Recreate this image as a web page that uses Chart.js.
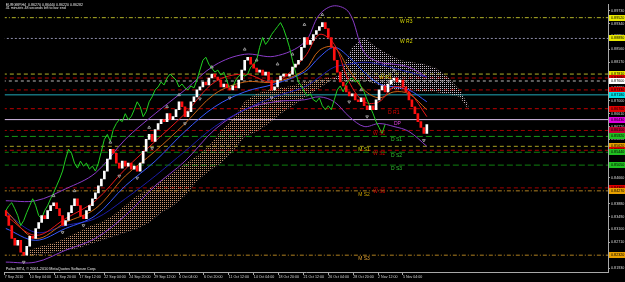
<!DOCTYPE html>
<html>
<head>
<meta charset="utf-8">
<title>EURGBP,H4</title>
<script src="https://cdn.jsdelivr.net/npm/chart.js@4.4.1/dist/chart.umd.min.js"></script>
<style>
    html, body { margin: 0; padding: 0; background: #000000; overflow: hidden; }
    #graphCanvas { display: block; }
</style>
</head>
<body>
<canvas id="graphCanvas" width="625" height="282"></canvas>
<script>
// closing prices, one bar each
var closes = [
    0.8352, 0.8322, 0.8283, 0.8262, 0.8277, 0.8241, 0.8232, 0.8259, 0.8289, 0.8283,
    0.8313, 0.8331, 0.8352, 0.8343, 0.8367, 0.8382, 0.8391, 0.8373, 0.8352, 0.8322,
    0.8337, 0.8361, 0.8382, 0.8403, 0.8382, 0.8352, 0.8343, 0.8367, 0.8382, 0.8403,
    0.8421, 0.8442, 0.8463, 0.8487, 0.8523, 0.8553, 0.8541, 0.8511, 0.8496, 0.8517,
    0.8502, 0.8511, 0.8493, 0.8502, 0.8487, 0.8511, 0.8547, 0.8583, 0.8598, 0.8577,
    0.8613, 0.8631, 0.8643, 0.8637, 0.8661, 0.8643, 0.8652, 0.8673, 0.8697, 0.8682,
    0.8652, 0.8667, 0.8697, 0.8712, 0.8733, 0.8742, 0.8757, 0.8748, 0.8769, 0.8781,
    0.8772, 0.8763, 0.8742, 0.8751, 0.8739, 0.8733, 0.8745, 0.8739, 0.8763, 0.8793,
    0.8823, 0.8832, 0.8811, 0.8799, 0.8787, 0.8793, 0.8778, 0.8787, 0.8763, 0.8733,
    0.8742, 0.8763, 0.8775, 0.8781, 0.8775, 0.8781, 0.8802, 0.8811, 0.8823, 0.8862,
    0.8892, 0.8871, 0.8883, 0.8901, 0.8913, 0.8925, 0.8937, 0.8919, 0.8892, 0.8862,
    0.8823, 0.8787, 0.8757, 0.8745, 0.8727, 0.8715, 0.8721, 0.8703, 0.8697, 0.8709,
    0.8685, 0.8673, 0.8685, 0.8673, 0.8703, 0.8733, 0.8745, 0.8727, 0.8751, 0.8763,
    0.8769, 0.8757, 0.8763, 0.8742, 0.8727, 0.8703, 0.8682, 0.8661, 0.8637, 0.8619,
    0.8601, 0.8628
];
var firstOpen = 0.8367;
var chikouShift = 14;

// ichimoku cloud edges
var cloudIdx = [8, 12, 16, 20, 24, 28, 32, 36, 40, 44, 48, 52, 56, 60, 64, 68, 72, 76, 80,
    84, 88, 92, 96, 100, 104, 108, 112, 116, 120, 124, 128, 132, 136, 140, 144, 148, 152, 155];
var spanA = [0.8247, 0.8259, 0.8268, 0.8283, 0.8301, 0.8319, 0.8331, 0.8352, 0.8382, 0.8412,
    0.8433, 0.8457, 0.8481, 0.8508, 0.8532, 0.8562, 0.8607, 0.8643, 0.8697, 0.8721,
    0.8733, 0.8739, 0.8745, 0.8757, 0.8763, 0.8769, 0.8763, 0.8757, 0.8763, 0.8751,
    0.8739, 0.8733, 0.8733, 0.8727, 0.8727, 0.8721, 0.8712, 0.8673];
var spanB = [0.8232, 0.8235, 0.8241, 0.8247, 0.8253, 0.8265, 0.8277, 0.8289, 0.8301, 0.8313,
    0.8331, 0.8361, 0.8382, 0.8412, 0.8457, 0.8487, 0.8511, 0.8547, 0.8592, 0.8607,
    0.8631, 0.8661, 0.8685, 0.8709, 0.8733, 0.8757, 0.8781, 0.8862, 0.8892, 0.8862,
    0.8841, 0.8823, 0.8817, 0.8811, 0.8799, 0.8772, 0.8733, 0.8685];

// indicator lines
var lineIdx = [0, 10, 20, 30, 40, 50, 60, 70, 80, 90, 100, 105, 110, 115, 120, 125, 130, 135, 141];
var bandUpper = [0.8397, 0.8397, 0.8433, 0.8481, 0.8583, 0.8661, 0.8733, 0.8808, 0.8841, 0.8835,
    0.8877, 0.8961, 0.8988, 0.8967, 0.8847, 0.8817, 0.8811, 0.8802, 0.8772];
var bandLower = [0.8211, 0.8211, 0.8247, 0.8283, 0.8352, 0.8442, 0.8517, 0.8613, 0.8673, 0.8697,
    0.8703, 0.8712, 0.8697, 0.8652, 0.8622, 0.8631, 0.8622, 0.8607, 0.8562];
var maBlue = [0.8313, 0.8277, 0.8313, 0.8352, 0.8442, 0.8517, 0.8607, 0.8682, 0.8727, 0.8751,
    0.8787, 0.8832, 0.8862, 0.8832, 0.8787, 0.8751, 0.8742, 0.8733, 0.8697];
var maNavy = [0.8361, 0.8301, 0.8322, 0.8343, 0.8403, 0.8472, 0.8547, 0.8622, 0.8673, 0.8712,
    0.8742, 0.8772, 0.8802, 0.8811, 0.8817, 0.8811, 0.8799, 0.8787, 0.8772];
var maRed = [0.8352, 0.8292, 0.8343, 0.8397, 0.8493, 0.8577, 0.8661, 0.8757, 0.8781, 0.8757,
    0.8832, 0.8901, 0.8871, 0.8757, 0.8697, 0.8697, 0.8742, 0.8727, 0.8652];
var maOrange = [0.8367, 0.8283, 0.8331, 0.8373, 0.8472, 0.8547, 0.8631, 0.8721, 0.8757, 0.8757,
    0.8793, 0.8853, 0.8862, 0.8793, 0.8733, 0.8709, 0.8727, 0.8721, 0.8673];

// fractals
var fractalUpIdx = [16, 23, 35, 48, 54, 58, 69, 80, 84, 91, 96, 100, 106, 119, 130];
var fractalUpPrice = [0.8412, 0.8427, 0.8574, 0.8619, 0.8682, 0.8718, 0.8802, 0.8856, 0.8823,
    0.8811, 0.8841, 0.8931, 0.8961, 0.8733, 0.8793];
var fractalDownIdx = [6, 19, 26, 38, 44, 49, 60, 65, 75, 89, 115, 121, 140];
var fractalDownPrice = [0.8211, 0.8301, 0.8322, 0.8472, 0.8466, 0.8556, 0.8631, 0.8706, 0.8709,
    0.8709, 0.8697, 0.8652, 0.8580];

// pivot levels
var pivotNames = ['W R3', 'W R2', 'W R1', '', '', '', '', 'D R1', 'DP', 'W S1', 'D S1', 'M S1',
    'W S2', 'D S2', 'D S3', 'W S3', 'M S2', 'M S3'];
var pivotPrices = [0.8952, 0.8889, 0.8781, 0.8769, 0.8760, 0.8733, 0.8718, 0.8676, 0.8643, 0.8610,
    0.8592, 0.8562, 0.8550, 0.8544, 0.8505, 0.8436, 0.8427, 0.8232];
var pivotLabelIdx = [132, 132, 125, 0, 0, 0, 0, 128, 130, 123, 129, 118, 123, 129, 129, 123, 118, 118];

// axis labels
var dateTicks = [-0.33, 8, 16.33, 24.67, 33, 41.33, 49.67, 58, 66.33, 74.67, 83, 91.33, 99.67,
    108, 116.33, 124.67, 133];
var dateLabels = ['7 Sep 2010', '10 Sep 04:00', '14 Sep 20:00', '17 Sep 12:00', '22 Sep 04:00',
    '24 Sep 20:00', '29 Sep 12:00', '4 Oct 04:00', '6 Oct 20:00', '11 Oct 12:00', '14 Oct 04:00',
    '18 Oct 20:00', '21 Oct 12:00', '26 Oct 04:00', '28 Oct 20:00', '2 Nov 12:00', '5 Nov 04:00'];
var priceTicks = [0.8193, 0.8232, 0.8271, 0.8310, 0.8349, 0.8388, 0.8427, 0.8466, 0.8505, 0.8544,
    0.8583, 0.8622, 0.8661, 0.8700, 0.8739, 0.8778, 0.8817, 0.8856, 0.8895, 0.8934, 0.8973];

var headerLines = ['EURGBP,H4  0.86270 0.86440 0.86220 0.86282', '41 minutes 48 seconds left to bar end'];
var footerText = 'Pafex MT4, \u00a9 2001-2010 MetaQuotes Software Corp.';

// styles
var pivotLineColors = ['#b4b428', '#8c8ca8', '#b4b428', '#b00000', '#b8b8b8', '#b00000', '#20a8b8',
    '#c00000', '#d8bce8', '#a00000', '#189818', '#a8a020', '#b00000', '#108010', '#108010',
    '#a00000', '#b08020', '#b08020'];
var pivotDashes = [[4, 2, 1, 2], [2, 2], [4, 3], [4, 3], [3, 3], [4, 3], [], [4, 3], [], [4, 3],
    [6, 3], [4, 3], [4, 3], [6, 3], [6, 3], [4, 3], [4, 2, 1, 2], [4, 2, 1, 2]];
var pivotTextColors = ['#d8d800', '#d8d800', '#d8d800', '', '', '', '', '#e00000', '#e040e0', '#d00000',
    '#30c030', '#c8c800', '#d00000', '#30c030', '#30c030', '#d00000', '#c8a000', '#e0a030'];
var pivotTagColors = ['#e8e800', '#e8e800', '#e8e800', '#e00000', '#ffffff', '#e00000', '#00e0e8',
    '#e00000', '#e000e0', '#c00030', '#20c020', '#e8a000', '#e00000', '#20c020', '#20c020',
    '#e00000', '#e8a000', '#e8a000'];

function toPoints(xs, ys) {
    var pts = [];
    for (var i = 0; i < xs.length; i++) {
        pts.push({x: xs[i], y: ys[i]});
    }
    return pts;
}

// dotted hatch like the terminal draws for the cloud
function dotPattern(ctx, color) {
    var c = document.createElement('canvas');
    c.width = 2;
    c.height = 2;
    var g = c.getContext('2d');
    g.fillStyle = color;
    g.fillRect(0, 0, 1, 1);
    return ctx.createPattern(c, 'repeat');
}

var overlay = {
    id: 'overlay',
    beforeDraw: function (chart) {
        var ctx = chart.ctx;
        ctx.save();
        ctx.fillStyle = '#000000';
        ctx.fillRect(0, 0, chart.width, chart.height);
        ctx.restore();
    },
    afterDraw: function (chart) {
        var ctx = chart.ctx;
        var xs = chart.scales.x;
        var ys = chart.scales.y;
        var area = chart.chartArea;
        ctx.save();

        // level names
        ctx.font = '5px "Liberation Sans"';
        ctx.textBaseline = 'top';
        ctx.textAlign = 'left';
        for (var i = 0; i < pivotNames.length; i++) {
            if (!pivotNames[i]) continue;
            ctx.fillStyle = pivotTextColors[i];
            ctx.fillText(pivotNames[i], xs.getPixelForValue(pivotLabelIdx[i]),
                Math.round(ys.getPixelForValue(pivotPrices[i])) + 1);
        }

        // price tags on the right scale
        ctx.font = '3.7px "Liberation Sans"';
        ctx.textBaseline = 'middle';
        for (var j = 0; j < pivotPrices.length; j++) {
            var y = Math.round(ys.getPixelForValue(pivotPrices[j]));
            ctx.fillStyle = pivotTagColors[j];
            ctx.fillRect(area.right + 1, y - 3, chart.width - area.right - 1, 6);
            ctx.fillStyle = '#000000';
            ctx.fillText(pivotPrices[j].toFixed(5), area.right + 3, y);
        }

        // header and footer
        ctx.fillStyle = '#e8e8e8';
        ctx.font = '3.6px "Liberation Sans"';
        ctx.textBaseline = 'top';
        ctx.fillText(headerLines[0], area.left + 1, 3);
        ctx.fillText(headerLines[1], area.left + 1, 6.5);
        ctx.font = '3.8px "Liberation Sans"';
        ctx.fillText(footerText, area.left + 1, area.bottom - 5);
        ctx.restore();
    }
};

function showGraph() {
    var canvas = document.getElementById('graphCanvas');
    var ctx = canvas.getContext('2d');

    var candles = [];
    var candleColors = [];
    for (var i = 0; i < closes.length; i++) {
        var o = i === 0 ? firstOpen : closes[i - 1];
        candles.push({x: i, y: [o, closes[i]]});
        candleColors.push(closes[i] >= o ? '#ffffff' : '#ff1010');
    }

    var chikou = [];
    for (var k = 0; k + chikouShift < closes.length; k++) {
        chikou.push({x: k, y: closes[k + chikouShift]});
    }

    var datasets = [
        {
            type: 'bar', label: 'EURGBP', data: candles,
            backgroundColor: candleColors, borderWidth: 0,
            barThickness: 2, order: 2
        },
        {
            type: 'line', label: 'fractal up', data: toPoints(fractalUpIdx, fractalUpPrice),
            showLine: false, pointStyle: 'triangle', pointRadius: 1.6, pointRotation: 0,
            pointBorderColor: '#b4b4b4', pointBackgroundColor: 'rgba(0,0,0,0)', pointBorderWidth: 0.8,
            order: 1
        },
        {
            type: 'line', label: 'fractal down', data: toPoints(fractalDownIdx, fractalDownPrice),
            showLine: false, pointStyle: 'triangle', pointRadius: 1.6, pointRotation: 180,
            pointBorderColor: '#b4b4b4', pointBackgroundColor: 'rgba(0,0,0,0)', pointBorderWidth: 0.8,
            order: 1
        },
        {
            type: 'line', label: 'Chikou', data: chikou,
            borderColor: '#22d022', borderWidth: 1, pointRadius: 0, tension: 0, order: 6
        },
        {
            type: 'line', label: 'MA red', data: toPoints(lineIdx, maRed),
            borderColor: '#e81818', borderWidth: 1, pointRadius: 0, tension: 0.35, order: 7
        },
        {
            type: 'line', label: 'MA orange', data: toPoints(lineIdx, maOrange),
            borderColor: '#c86414', borderWidth: 1, pointRadius: 0, tension: 0.35, order: 8
        },
        {
            type: 'line', label: 'MA blue', data: toPoints(lineIdx, maBlue),
            borderColor: '#3858ff', borderWidth: 1, pointRadius: 0, tension: 0.35, order: 9
        },
        {
            type: 'line', label: 'MA navy', data: toPoints(lineIdx, maNavy),
            borderColor: '#1c1ca8', borderWidth: 1, pointRadius: 0, tension: 0.35, order: 10
        },
        {
            type: 'line', label: 'Band upper', data: toPoints(lineIdx, bandUpper),
            borderColor: '#8a3cc8', borderWidth: 1, pointRadius: 0, tension: 0.35, order: 11
        },
        {
            type: 'line', label: 'Band lower', data: toPoints(lineIdx, bandLower),
            borderColor: '#8a3cc8', borderWidth: 1, pointRadius: 0, tension: 0.35, order: 11
        },
        {
            type: 'line', label: 'Senkou A', data: toPoints(cloudIdx, spanA),
            borderColor: 'rgba(244,164,96,0.4)', borderWidth: 0.6, borderDash: [1, 2],
            pointRadius: 0, tension: 0,
            fill: {target: '+1', above: dotPattern(ctx, '#c89470'), below: dotPattern(ctx, '#c4b8c4')},
            order: 30
        },
        {
            type: 'line', label: 'Senkou B', data: toPoints(cloudIdx, spanB),
            borderColor: 'rgba(216,191,216,0.4)', borderWidth: 0.6, borderDash: [1, 2],
            pointRadius: 0, tension: 0, order: 30
        }
    ];

    for (var p = 0; p < pivotPrices.length; p++) {
        datasets.push({
            type: 'line', label: pivotNames[p] || 'level',
            data: [{x: -1, y: pivotPrices[p]}, {x: 203, y: pivotPrices[p]}],
            borderColor: pivotLineColors[p], borderDash: pivotDashes[p], borderWidth: 1,
            pointRadius: 0, order: 40
        });
    }

    var axisFont = {family: 'Liberation Sans', size: 3.6};

    new Chart(canvas, {
        type: 'bar',
        data: {datasets: datasets},
        options: {
            responsive: false,
            animation: false,
            devicePixelRatio: 1,
            events: [],
            layout: {padding: {top: 2, left: 2, right: 0, bottom: 0}},
            plugins: {
                legend: {display: false},
                tooltip: {enabled: false}
            },
            scales: {
                x: {
                    type: 'linear', min: -0.34, max: 201.67, offset: false,
                    grid: {display: true, offset: false, drawOnChartArea: false, drawTicks: true,
                        tickLength: 3, color: '#a8a8a8'},
                    border: {display: true, color: '#a8a8a8'},
                    ticks: {
                        autoSkip: false, maxRotation: 0, minRotation: 0, align: 'start',
                        padding: 0, color: '#d8d8d8', font: axisFont,
                        callback: function (v, idx) { return dateLabels[idx]; }
                    },
                    afterBuildTicks: function (axis) {
                        axis.ticks = dateTicks.map(function (v) { return {value: v}; });
                    },
                    afterFit: function (axis) { axis.height = 10; }
                },
                y: {
                    type: 'linear', position: 'right', min: 0.8181, max: 0.8991,
                    grid: {display: true, drawOnChartArea: false, drawTicks: true,
                        tickLength: 2, color: '#a8a8a8'},
                    border: {display: true, color: '#a8a8a8'},
                    ticks: {
                        autoSkip: false, padding: 1, color: '#d8d8d8',
                        font: {family: 'Liberation Sans', size: 3.7},
                        callback: function (v) { return v.toFixed(5); }
                    },
                    afterBuildTicks: function (axis) {
                        axis.ticks = priceTicks.map(function (v) { return {value: v}; });
                    },
                    afterFit: function (axis) { axis.width = 17; }
                }
            }
        },
        plugins: [overlay]
    });
}

showGraph();
</script>
</body>
</html>
